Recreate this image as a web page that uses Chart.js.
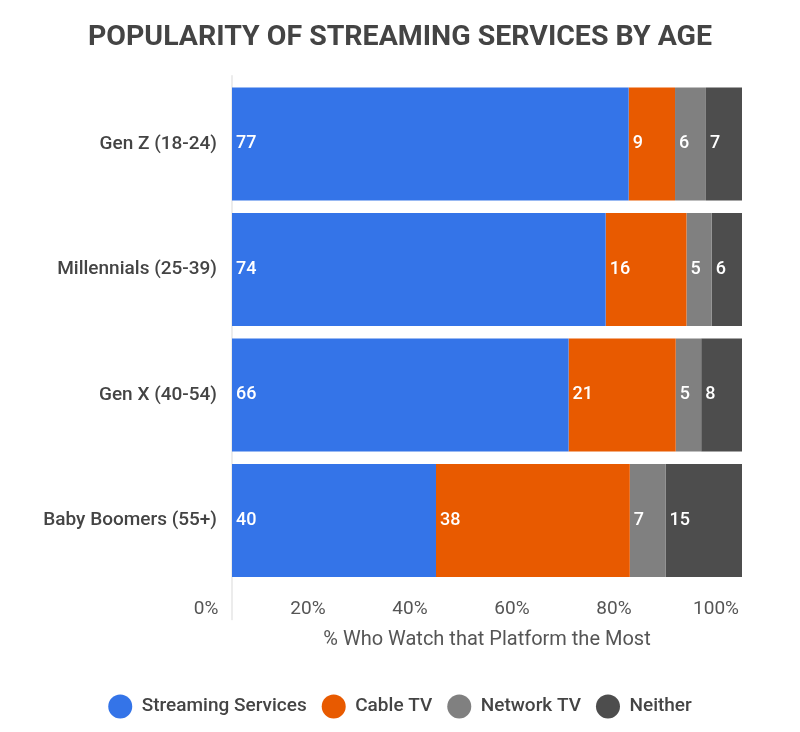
<!DOCTYPE html>
<html>
<head>
<meta charset="utf-8">
<script src="https://cdn.jsdelivr.net/npm/chart.js@4/dist/chart.umd.min.js"></script>
<style>
  html, body { margin: 0; padding: 0; background: #fff; }
  #wrap { width: 800px; height: 732px; }
</style>
</head>
<body>
<div id="wrap"><canvas id="chart" width="800" height="732"></canvas></div>
<script>
// Data
const ageGroups = ['Gen Z (18-24)', 'Millennials (25-39)', 'Gen X (40-54)', 'Baby Boomers (55+)'];
const streaming = [77, 74, 66, 40];
const cable = [9, 16, 21, 38];
const network = [6, 5, 5, 7];
const neither = [7, 6, 8, 15];
const seriesNames = ['Streaming Services', 'Cable TV', 'Network TV', 'Neither'];
const xTicks = [0, 20, 40, 60, 80, 100];

const rawSeries = [streaming, cable, network, neither];
const colors = ['#3474E8', '#E85A00', '#808080', '#4D4D4D'];

// normalise each row to 100%
const totals = ageGroups.map((_, i) => rawSeries.reduce((s, arr) => s + arr[i], 0));

const datasets = rawSeries.map((arr, k) => ({
    label: seriesNames[k],
    data: arr.map((v, i) => v / totals[i] * 100),
    raw: arr,
    backgroundColor: colors[k],
    borderWidth: 0,
    barPercentage: 0.9,
    categoryPercentage: 1
}));

Chart.defaults.font.family = 'Roboto, "Noto Sans", sans-serif';
Chart.defaults.color = '#444';

// white value labels at the left edge of each segment
const valueLabels = {
    id: 'valueLabels',
    afterDatasetsDraw(chart) {
        const ctx = chart.ctx;
        ctx.save();
        ctx.fillStyle = '#fff';
        ctx.font = '500 18px Roboto, sans-serif';
        ctx.textAlign = 'left';
        ctx.textBaseline = 'middle';
        chart.data.datasets.forEach((ds, k) => {
            chart.getDatasetMeta(k).data.forEach((bar, i) => {
                const left = Math.min(bar.x, bar.base);
                ctx.fillText(String(ds.raw[i]), left + 4, bar.y);
            });
        });
        ctx.restore();
    }
};

// zero line running down past the tick labels
const zeroLine = {
    id: 'zeroLine',
    beforeDatasetsDraw(chart) {
        const ctx = chart.ctx;
        const x = chart.scales.x.getPixelForValue(0);
        ctx.save();
        ctx.strokeStyle = '#d9d9d9';
        ctx.lineWidth = 1;
        ctx.beginPath();
        ctx.moveTo(x, chart.chartArea.top - 6);
        ctx.lineTo(x, chart.chartArea.bottom + 37);
        ctx.stroke();
        ctx.restore();
    }
};

new Chart(document.getElementById('chart'), {
    type: 'bar',
    data: { labels: ageGroups, datasets: datasets },
    plugins: [zeroLine, valueLabels],
    options: {
        responsive: false,
        animation: false,
        indexAxis: 'y',
        layout: { padding: { left: 36, right: 36, top: 0, bottom: 6 } },
        scales: {
            x: {
                stacked: true,
                min: 0,
                max: 100,
                afterBuildTicks(scale) { scale.ticks = xTicks.map(v => ({ value: v })); },
                grid: { display: false },
                border: { display: false },
                ticks: {
                    callback: v => v + '%',
                    font: { size: 19 },
                    color: '#555',
                    labelOffset: -26,
                    padding: 7
                },
                title: {
                    display: true,
                    text: '% Who Watch that Platform the Most',
                    font: { size: 20 },
                    color: '#555',
                    padding: { top: 0, bottom: 30 }
                }
            },
            y: {
                stacked: true,
                afterFit(scale) { scale.width = 196; },
                grid: { display: false, drawTicks: false },
                border: { display: false },
                ticks: { font: { size: 19, weight: 500 }, color: '#444', padding: 15 }
            },
            // empty axis on the right, only to keep the bars clear of the edge
            yRight: {
                axis: 'y',
                position: 'right',
                afterFit(scale) { scale.width = 22; },
                grid: { display: false, drawTicks: false },
                border: { display: false },
                ticks: { display: false }
            }
        },
        plugins: {
            title: {
                display: true,
                text: 'POPULARITY OF STREAMING SERVICES BY AGE',
                font: { size: 28.5, weight: 'bold' },
                color: '#444',
                padding: { top: 21, bottom: 26 }
            },
            legend: {
                position: 'bottom',
                labels: {
                    usePointStyle: true,
                    pointStyle: 'circle',
                    pointStyleWidth: 24,
                    boxHeight: 17,
                    padding: 15,
                    font: { size: 19, weight: 500 },
                    color: '#444'
                }
            },
            tooltip: { enabled: false }
        }
    }
});
</script>
</body>
</html>
